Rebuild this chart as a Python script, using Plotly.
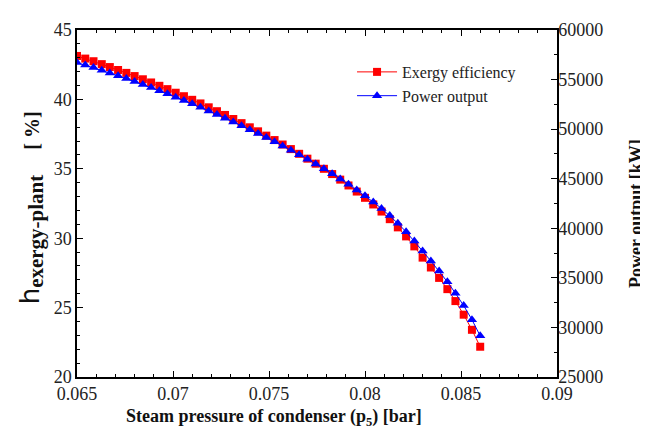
import plotly.graph_objects as go

pressure_bar = [0.06500, 0.06543, 0.06586, 0.06629, 0.06671, 0.06714, 0.06757, 0.06800, 0.06843, 0.06886,
                0.06929, 0.06971, 0.07014, 0.07057, 0.07100, 0.07143, 0.07186, 0.07229, 0.07271, 0.07314,
                0.07357, 0.07400, 0.07443, 0.07486, 0.07529, 0.07571, 0.07614, 0.07657, 0.07700, 0.07743,
                0.07786, 0.07829, 0.07871, 0.07914, 0.07957, 0.08000, 0.08043, 0.08086, 0.08129, 0.08171,
                0.08214, 0.08257, 0.08300, 0.08343, 0.08386, 0.08429, 0.08471, 0.08514, 0.08557, 0.08600]

exergy_efficiency = [43.13, 42.94, 42.75, 42.54, 42.33, 42.12, 41.91, 41.68, 41.45, 41.22,
                     40.98, 40.74, 40.48, 40.23, 39.97, 39.71, 39.43, 39.15, 38.88, 38.59,
                     38.29, 37.99, 37.70, 37.39, 37.07, 36.75, 36.42, 36.08, 35.73, 35.37,
                     35.00, 34.62, 34.22, 33.80, 33.36, 32.91, 32.43, 31.92, 31.37, 30.78,
                     30.13, 29.41, 28.60, 27.89, 27.14, 26.33, 25.47, 24.49, 23.40, 22.18]

power_output_kw = [56710, 56458, 56206, 55940, 55660, 55380, 55100, 54806, 54498, 54190,
                   53882, 53560, 53224, 52888, 52552, 52202, 51838, 51474, 51110, 50732,
                   50340, 49948, 49556, 49150, 48730, 48310, 47876, 47428, 46966, 46490,
                   46000, 45496, 44978, 44432, 43858, 43270, 42654, 41996, 41282, 40500,
                   39650, 38720, 37700, 36700, 35680, 34600, 33450, 32200, 30780, 29150]

x_ticks = [0.065, 0.07, 0.075, 0.08, 0.085, 0.09]
x_tick_labels = ["0.065", "0.07", "0.075", "0.08", "0.085", "0.09"]

FONT = "Liberation Serif"

fig = go.Figure()
fig.add_trace(go.Scatter(
    x=pressure_bar, y=exergy_efficiency, name="Exergy efficiency",
    mode="lines+markers",
    line=dict(color="#ff0000", width=1),
    marker=dict(symbol="square", size=8, color="#ff0000"),
))
fig.add_trace(go.Scatter(
    x=pressure_bar, y=power_output_kw, name="Power output", yaxis="y2",
    mode="lines+markers",
    line=dict(color="#0000ff", width=1),
    marker=dict(symbol="triangle-up", size=9, color="#0000ff"),
))

axis_common = dict(showline=True, linecolor="black", linewidth=1.5, ticks="inside",
                   ticklen=6, tickwidth=1.2, tickcolor="black", showgrid=False, zeroline=False,
                   tickfont=dict(family=FONT, size=18, color="#222222"))

ytitle = ("<span style='font-family:DejaVu Sans;font-size:26px'>h</span>"
          "<sub><span style='font-size:21px'><b>exergy-plant</b></span></sub>"
          "\u00a0\u00a0\u00a0\u00a0\u00a0<span style='font-size:20px'><b>[ %]</b></span>")

fig.update_layout(
    width=648, height=432,
    margin=dict(l=69, r=99, t=18, b=63),
    paper_bgcolor="white", plot_bgcolor="white",
    font=dict(family=FONT, color="black"),
    showlegend=True,
    legend=dict(x=0.573, y=0.928, xanchor="left", yanchor="top", bgcolor="rgba(0,0,0,0)",
                font=dict(family=FONT, size=16, color="#222222"), tracegroupgap=0, itemwidth=40),
    xaxis=dict(range=[0.065, 0.09], tickvals=x_ticks, ticktext=x_tick_labels, mirror="ticks",
               minor=dict(dtick=0.001, ticks="inside", ticklen=3, tickcolor="black"),
               **axis_common),
    yaxis=dict(range=[20, 45], dtick=5,
               minor=dict(dtick=1, ticks="inside", ticklen=3, tickcolor="black"),
               **axis_common),
    yaxis2=dict(range=[25000, 60000], dtick=5000, overlaying="y", side="right", tickformat="d",
                ticklabelstandoff=-4,
                minor=dict(dtick=2500, ticks="inside", ticklen=3, tickcolor="black"),
                **axis_common),
    annotations=[
        dict(xref="paper", yref="paper", x=0.41, y=0, yshift=-40,
             xanchor="center", yanchor="middle", showarrow=False,
             text="<b>Steam pressure of condenser (p<sub>5</sub>) [bar]</b>",
             font=dict(family=FONT, size=18, color="#111111")),
        dict(xref="paper", yref="paper", x=0, y=0.486, xshift=-46, textangle=-90,
             xanchor="center", yanchor="middle", showarrow=False,
             text=ytitle,
             font=dict(family=FONT, size=20, color="#111111")),
        dict(xref="paper", yref="paper", x=1, y=0.47, xshift=79, textangle=-90,
             xanchor="center", yanchor="middle", showarrow=False,
             text="<b>Power output [kW]</b>",
             font=dict(family=FONT, size=18, color="#111111")),
    ],
)

fig.write_html("out.html")
